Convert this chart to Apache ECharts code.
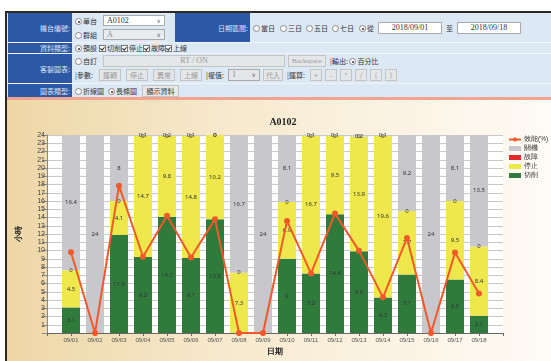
<!DOCTYPE html>
<html>
<head>
<meta charset="utf-8">
<script src="https://cdn.jsdelivr.net/npm/echarts@6/dist/echarts.min.js"></script>
<style>
  body { margin: 0; width: 551px; height: 361px; overflow: hidden; background: #fff;
         font-family: "Noto Sans CJK TC", "Noto Sans", sans-serif; font-size: 7px; color: #333; }
  .frame { position: absolute; left: 5px; top: 11px; width: 546px; height: 350px;
           border-left: 2px solid #2e2824; border-top: 2px solid #2e2824; }
  .form { position: absolute; left: 7px; top: 13px; width: 544px; height: 85px; background: #dce8f4; }
  .row { position: absolute; left: 7px; width: 544px; border-bottom: 1px solid #eef4fb; }
  .lab { position: absolute; background: #2c58a5; color: #d9e4fa; text-align: right;
         padding-right: 2px; box-sizing: border-box; display: flex; align-items: center; justify-content: flex-end; }
  .it { position: absolute; white-space: nowrap; line-height: 10px; }
  .rd { display: inline-block; width: 5px; height: 5px; border: 1px solid #888; border-radius: 50%;
        background: #fff; vertical-align: -1px; margin-right: 1px; position: relative; }
  .rd.on::after { content: ""; position: absolute; left: 1.5px; top: 1.5px; width: 2px; height: 2px;
        border-radius: 50%; background: #333; }
  .cb { display: inline-block; width: 5px; height: 5px; border: 1px solid #777; background: #fff;
        vertical-align: -1px; margin-right: 1px; position: relative; overflow: hidden; }
  .cb::after { content: ""; position: absolute; left: 1px; top: 0px; width: 1.5px; height: 3px;
        border-right: 1px solid #222; border-bottom: 1px solid #222; transform: rotate(40deg); }
  .box { position: absolute; background: #fff; border: 1px solid #aaa; box-sizing: border-box;
         font-family: "Liberation Serif", serif; font-size: 8px; line-height: 9px; padding-left: 3px; }
  .box.off { background: #e9ecef; color: #888; }
  .arr { position: absolute; right: 3px; top: 0; color: #666; font-family: "DejaVu Sans"; font-size: 6px; }
  .btn { position: absolute; background: #e4e6e8; border: 1px solid #c2c4c6; box-sizing: border-box;
         color: #999; text-align: center; line-height: 10px; }
  .pink { position: absolute; left: 7px; top: 97px; width: 544px; height: 3px; background: #f3a48e; }
  #main { position: absolute; left: 7px; top: 100px; width: 544px; height: 261px;
          background: linear-gradient(90deg, #eed7a6 0%, #f6e7c9 35%, #fbf3e3 70%, #fefbf6 100%); }
</style>
</head>
<body>
<div class="frame"></div>
<div class="form"></div>

<!-- row 1 -->
<div class="row" style="top:13px;height:29px"></div>
<div class="lab" style="left:8px;top:13px;width:64px;height:29px">機台編號:</div>
<div class="it" style="left:75px;top:16px"><span class="rd on"></span>單台</div>
<div class="box" style="left:103px;top:15px;width:62px;height:11px">A0102<span class="arr">∨</span></div>
<div class="it" style="left:75px;top:30px"><span class="rd"></span>群組</div>
<div class="box off" style="left:103px;top:29px;width:62px;height:11px">A<span class="arr">∨</span></div>
<div class="lab" style="left:175px;top:13px;width:75px;height:29px">日期區間:</div>
<div class="it" style="left:253px;top:23px"><span class="rd"></span>當日</div>
<div class="it" style="left:280px;top:23px"><span class="rd"></span>三日</div>
<div class="it" style="left:306px;top:23px"><span class="rd"></span>五日</div>
<div class="it" style="left:332px;top:23px"><span class="rd"></span>七日</div>
<div class="it" style="left:359px;top:23px"><span class="rd on"></span>從</div>
<div class="box" style="left:378px;top:22px;width:64px;height:12px;text-align:center;padding:0;line-height:10px">2018/09/01</div>
<div class="it" style="left:446px;top:23px">至</div>
<div class="box" style="left:457px;top:22px;width:64px;height:12px;text-align:center;padding:0;line-height:10px">2018/09/18</div>

<!-- row 2 -->
<div class="row" style="top:43px;height:10px"></div>
<div class="lab" style="left:8px;top:43px;width:64px;height:10px">資料類型:</div>
<div class="it" style="left:75px;top:43px"><span class="rd on"></span>預設</div>
<div class="it" style="left:99px;top:43px"><span class="cb"></span>切削</div>
<div class="it" style="left:121px;top:43px"><span class="cb"></span>停止</div>
<div class="it" style="left:143px;top:43px"><span class="cb"></span>故障</div>
<div class="it" style="left:165px;top:43px"><span class="cb"></span>上線</div>

<!-- row 3 -->
<div class="row" style="top:54px;height:29px"></div>
<div class="lab" style="left:8px;top:54px;width:64px;height:29px">客製圖表:</div>
<div class="it" style="left:75px;top:56px"><span class="rd"></span>自訂</div>
<div class="btn" style="left:103px;top:55px;width:182px;height:12px;font-family:'Liberation Serif';font-size:8px">RT / ON</div>
<div class="btn" style="left:288px;top:55px;width:38px;height:12px;font-family:'Liberation Serif';font-size:7px">Backspace</div>
<div class="it" style="left:330px;top:56px">|輸出: <span class="rd on"></span>百分比</div>
<div class="it" style="left:75px;top:70px">|參數:</div>
<div class="btn" style="left:99px;top:69px;width:22px;height:12px">運轉</div>
<div class="btn" style="left:126px;top:69px;width:22px;height:12px">停止</div>
<div class="btn" style="left:153px;top:69px;width:22px;height:12px">異常</div>
<div class="btn" style="left:180px;top:69px;width:22px;height:12px">上線</div>
<div class="it" style="left:206px;top:70px">|權值:</div>
<div class="box off" style="left:228px;top:69px;width:32px;height:12px;background:#e4e6e8">1<span class="arr">∨</span></div>
<div class="btn" style="left:263px;top:69px;width:20px;height:12px">代入</div>
<div class="it" style="left:287px;top:70px">|運算:</div>
<div class="btn" style="left:310px;top:69px;width:12px;height:12px">+</div>
<div class="btn" style="left:325px;top:69px;width:12px;height:12px">-</div>
<div class="btn" style="left:340px;top:69px;width:12px;height:12px">*</div>
<div class="btn" style="left:355px;top:69px;width:12px;height:12px">/</div>
<div class="btn" style="left:370px;top:69px;width:12px;height:12px">(</div>
<div class="btn" style="left:385px;top:69px;width:12px;height:12px">)</div>

<!-- row 4 -->
<div class="row" style="top:84px;height:13px"></div>
<div class="lab" style="left:8px;top:84px;width:64px;height:13px">圖表類型:</div>
<div class="it" style="left:75px;top:86px"><span class="rd"></span>折線圖</div>
<div class="it" style="left:108px;top:86px"><span class="rd on"></span>長條圖</div>
<div class="btn" style="left:142px;top:85px;width:37px;height:12px;color:#333;background:#e8e8e8">顯示資料</div>
<div class="pink"></div>

<div id="main"></div>

<script>
var dates = ['09/01', '09/02', '09/03', '09/04', '09/05', '09/06', '09/07', '09/08', '09/09',
             '09/10', '09/11', '09/12', '09/13', '09/14', '09/15', '09/16', '09/17', '09/18'];
// hours per day
var cutHours   = [3.1, 0, 11.9, 9.2, 14.1, 9.1, 13.8, 0, 0, 9, 7.2, 14.4, 9.9, 4.3, 7.1, 0, 6.5, 2.1];
var stopHours  = [4.5, 0, 4.1, 14.7, 9.8, 14.8, 10.2, 7.3, 0, 6.9, 16.7, 9.5, 13.9, 19.6, 7.7, 0, 9.5, 8.4];
var faultHours = [0, 0, 0, 0, 0, 0, 0, 0, 0, 0, 0, 0, 0, 0, 0, 0, 0, 0];
var offHours   = [16.4, 24, 8, 0.1, 0.2, 0.1, 0, 16.7, 24, 8.1, 0.1, 0.1, 0.2, 0.1, 9.2, 24, 8.1, 13.5];
// efficiency (%)
var efficiency = [40.8, 0, 74.4, 38.5, 59.2, 38.1, 57.5, 0, 0, 56.6, 30.1, 60.3, 41.6, 18, 48, 0, 40.6, 20];

// one empty slot on each side of the dates
function pad(arr) { return [null].concat(arr, [null]); }

var chartDom = document.getElementById('main');
var myChart = echarts.init(chartDom);
var option;

var lineColor = '#f05a2a';
var barLabel = { show: true, position: 'inside', fontSize: 6, color: '#333', fontFamily: 'Noto Sans' };

function barSeries(name, data, color) {
  return {
    name: name,
    type: 'bar',
    stack: 'hours',
    barWidth: 18,
    data: pad(data),
    itemStyle: { color: color },
    label: barLabel
  };
}

option = {
  animation: false,
  title: {
    text: 'A0102',
    left: 271,
    top: 12,
    textAlign: 'center',
    textStyle: { fontSize: 10, fontWeight: 'bold', fontFamily: 'Liberation Serif', color: '#222' }
  },
  legend: {
    orient: 'vertical',
    left: 496,
    top: 31,
    itemWidth: 12,
    itemHeight: 5,
    itemGap: 2,
    textStyle: { fontSize: 6.5, color: '#333', padding: [0, 0, 0, -2] },
    data: [
      { name: '效能(%)' },
      { name: '關機', icon: 'rect' },
      { name: '故障', icon: 'rect' },
      { name: '停止', icon: 'rect' },
      { name: '切削', icon: 'rect' }
    ]
  },
  grid: {
    left: 36,
    top: 35,
    width: 460,
    height: 205,
    show: true,
    backgroundColor: '#fff',
    borderWidth: 0
  },
  xAxis: {
    type: 'category',
    boundaryGap: false,
    data: [''].concat(dates, ['']),
    name: '日期',
    nameLocation: 'middle',
    nameGap: 15,
    nameTextStyle: { fontSize: 8, fontWeight: 'bold', color: '#222' },
    axisLine: { lineStyle: { color: '#666' } },
    axisTick: { length: 3, lineStyle: { color: '#666' } },
    axisLabel: { interval: 0, fontSize: 6, color: '#555', margin: 4 }
  },
  yAxis: [
    {
      type: 'value',
      min: 0,
      max: 24,
      interval: 1,
      name: '小時',
      nameLocation: 'middle',
      nameRotate: 90,
      nameGap: 24,
      nameTextStyle: { fontSize: 8, fontWeight: 'bold', color: '#222' },
      axisLine: { show: true, lineStyle: { color: '#888' } },
      axisTick: { show: true, length: 5, lineStyle: { color: '#888' } },
      axisLabel: {
        fontSize: 7, color: '#444', margin: 2,
        formatter: function (v) { return v === 0 ? '' : v; }
      },
      splitLine: { lineStyle: { color: '#c9c9c9' } }
    },
    { type: 'value', min: 0, max: 100, show: false }
  ],
  series: [
    barSeries('切削', cutHours, '#2e7b3c'),
    barSeries('停止', stopHours, '#eee84c'),
    barSeries('故障', faultHours, '#e22a2a'),
    barSeries('關機', offHours, '#c8c8cc'),
    {
      name: '效能(%)',
      type: 'line',
      yAxisIndex: 1,
      data: pad(efficiency),
      z: 5,
      color: lineColor,
      symbol: 'circle',
      symbolSize: 6,
      lineStyle: { color: lineColor, width: 2 },
      itemStyle: { color: lineColor }
    }
  ]
};

option && myChart.setOption(option);
</script>
</body>
</html>
